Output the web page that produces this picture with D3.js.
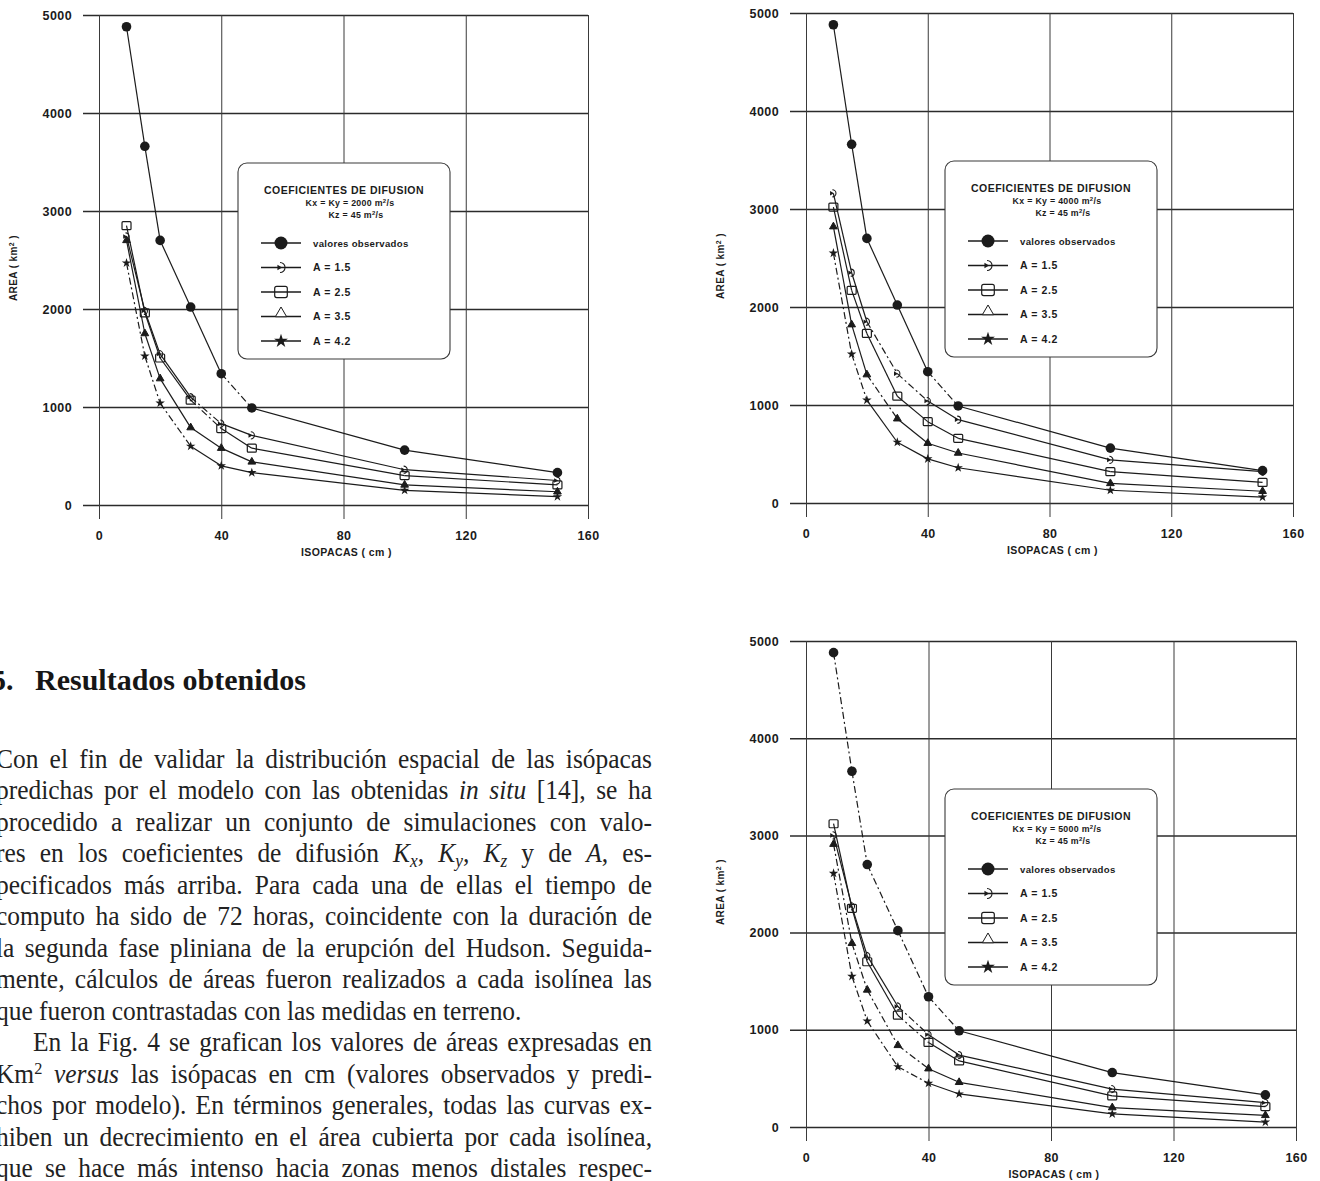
<!DOCTYPE html>
<html>
<head>
<meta charset="utf-8">
<script src="https://cdn.jsdelivr.net/npm/d3@7"></script>
<style>
  body { margin: 0; background: #fff; }
  svg { display: block; }
</style>
</head>
<body>
<div id="fig"></div>
<script>
// Isopacas (cm) on the x axis, shared by the three panels
var isopacas = [9, 15, 20, 30, 40, 50, 100, 150];
var xTicks = [0, 40, 80, 120, 160];
var yTicks = [0, 1000, 2000, 3000, 4000, 5000];
var serieNombres = ["valores observados", "A = 1.5", "A = 2.5", "A = 3.5", "A = 4.2"];
var kxy = [2000, 4000, 5000];
var kz = 45;

// Observed areas (km2), the same curve in every panel
var observados = [4880, 3660, 2700, 2020, 1340, 990, 560, 330];

// Kx = Ky = 2000 m2/s
var k2000A15 = [2740, 1980, 1540, 1100, 830, 710, 360, 250];
var k2000A25 = [2850, 1960, 1500, 1070, 780, 580, 300, 205];
var k2000A35 = [2700, 1750, 1290, 790, 580, 440, 205, 135];
var k2000A42 = [2470, 1520, 1040, 600, 400, 330, 150, 85];

// Kx = Ky = 4000 m2/s
var k4000A15 = [3160, 2350, 1850, 1320, 1040, 850, 440, 320];
var k4000A25 = [3020, 2170, 1730, 1090, 830, 660, 320, 210];
var k4000A35 = [2820, 1820, 1310, 860, 610, 510, 200, 120];
var k4000A42 = [2550, 1520, 1050, 620, 450, 360, 130, 60];

// Kx = Ky = 5000 m2/s
var k5000A15 = [3000, 2270, 1760, 1240, 950, 740, 390, 250];
var k5000A25 = [3120, 2250, 1700, 1150, 870, 680, 320, 210];
var k5000A35 = [2910, 1890, 1410, 840, 600, 460, 200, 120];
var k5000A42 = [2610, 1550, 1090, 620, 450, 340, 135, 50];

// Text of the page beside the figure
var tituloNum = "5.";
var titulo = "Resultados obtenidos";
var parrafo = [
  "Con el fin de validar la distribución espacial de las isópacas",
  "predichas por el modelo con las obtenidas *in situ* [14], se ha",
  "procedido a realizar un conjunto de simulaciones con valo-",
  "res en los coeficientes de difusión *K*_x_, *K*_y_, *K*_z_ y de *A*, es-",
  "pecificados más arriba. Para cada una de ellas el tiempo de",
  "computo ha sido de 72 horas, coincidente con la duración de",
  "la segunda fase pliniana de la erupción del Hudson. Seguida-",
  "mente, cálculos de áreas fueron realizados a cada isolínea las",
  "que fueron contrastadas con las medidas en terreno.",
  "En la Fig. 4 se grafican los valores de áreas expresadas en",
  "Km^2^ *versus* las isópacas en cm (valores observados y predi-",
  "chos por modelo). En términos generales, todas las curvas ex-",
  "hiben un decrecimiento en el área cubierta por cada isolínea,",
  "que se hace más intenso hacia zonas menos distales respec-"
];

// Panel placement (pixels) and which segments look dashed in the scan
var paneles = [
  { left: 99, right: 588, top: 15, bottom: 505, kxy: kxy[0],
    series: [observados, k2000A15, k2000A25, k2000A35, k2000A42],
    dashed: [[0, 4], [1, 3], [2, 3], [4, 0], [4, 1], [4, 2]] },
  { left: 806, right: 1293, top: 13, bottom: 503, kxy: kxy[1],
    series: [observados, k4000A15, k4000A25, k4000A35, k4000A42],
    dashed: [[0, 4], [1, 2], [1, 3], [3, 2], [4, 0], [4, 1]] },
  { left: 806, right: 1296, top: 641, bottom: 1127, kxy: kxy[2],
    series: [observados, k5000A15, k5000A25, k5000A35, k5000A42],
    dashed: [[0, 0], [0, 1], [0, 2], [0, 3], [0, 4], [1, 3], [2, 3],
             [3, 0], [3, 1], [3, 2], [3, 3], [4, 0], [4, 1], [4, 2], [4, 3]] }
];

var ink = "#1b1b1b";
var sans = "'Liberation Sans', Arial, sans-serif";

var svg = d3.select("#fig")
  .append("svg")
  .attr("width", 1320)
  .attr("height", 1181);

svg.append("rect").attr("width", 1320).attr("height", 1181).attr("fill", "#fff");

// Draw one marker; tipo is the index of the series
function marcador(g, tipo, cx, cy, leyenda) {
  var s = leyenda ? 1.4 : 1;
  if (tipo === 0) {
    g.append("circle").attr("cx", cx).attr("cy", cy).attr("r", (leyenda ? 6.5 : 4.8))
      .attr("fill", ink);
  } else if (tipo === 1) {
    var r = 3.6 * s;
    g.append("path")
      .attr("d", `M${cx - 1},${cy - r} A${r},${r} 0 0 1 ${cx - 1},${cy + r}`)
      .attr("fill", "none").attr("stroke", ink).attr("stroke-width", 1.1);
    g.append("path")
      .attr("d", d3.symbol(d3.symbolTriangle, 9 * s)())
      .attr("transform", `translate(${cx - 2},${cy}) rotate(90)`)
      .attr("fill", ink);
  } else if (tipo === 2) {
    var w = 9 * s, h = 8 * s;
    g.append("rect").attr("x", cx - w / 2).attr("y", cy - h / 2)
      .attr("width", w).attr("height", h).attr("rx", leyenda ? 2 : 1)
      .attr("fill", "none").attr("stroke", ink).attr("stroke-width", 1.2);
  } else if (tipo === 3) {
    g.append("path")
      .attr("d", d3.symbol(d3.symbolTriangle, leyenda ? 55 : 26)())
      .attr("transform", `translate(${cx},${cy - (leyenda ? 3 : 0)})`)
      .attr("fill", leyenda ? "#fff" : ink)
      .attr("stroke", ink).attr("stroke-width", 1);
  } else {
    g.append("path")
      .attr("d", d3.symbol(d3.symbolStar, leyenda ? 60 : 28)())
      .attr("transform", `translate(${cx},${cy})`)
      .attr("fill", ink);
  }
}

paneles.forEach(function(p) {
  var x = d3.scaleLinear().domain([0, 160]).range([p.left, p.right]);
  var y = d3.scaleLinear().domain([0, 5000]).range([p.bottom, p.top]);
  var g = svg.append("g");

  // horizontal grid + y labels
  var yAxis = g.append("g")
    .attr("transform", `translate(${p.right},0)`)
    .call(d3.axisLeft(y).tickValues(yTicks).tickFormat(d3.format("d"))
      .tickSize(p.right - p.left + 16).tickPadding(11));
  yAxis.select(".domain").remove();
  yAxis.selectAll("line").attr("stroke", "#2b2b2b").attr("stroke-width", 1.5);
  yAxis.selectAll("text")
    .attr("font-family", sans).attr("font-weight", "bold").attr("font-size", 12.5)
    .attr("letter-spacing", 0.4).attr("fill", ink);

  // vertical grid + x labels
  var xAxis = g.append("g")
    .attr("transform", `translate(0,${p.top})`)
    .call(d3.axisBottom(x).tickValues(xTicks).tickFormat(d3.format("d"))
      .tickSize(p.bottom - p.top + 14).tickPadding(12));
  xAxis.select(".domain").remove();
  xAxis.selectAll("line").attr("stroke", "#3a3a3a").attr("stroke-width", 1);
  xAxis.selectAll("text")
    .attr("font-family", sans).attr("font-weight", "bold").attr("font-size", 12.5)
    .attr("letter-spacing", 0.4).attr("fill", ink);

  // axis titles
  g.append("text")
    .attr("x", x(80) + 3).attr("y", p.bottom + 51)
    .attr("text-anchor", "middle")
    .attr("font-family", sans).attr("font-weight", "bold").attr("font-size", 10.5)
    .attr("letter-spacing", 0.4).attr("fill", ink)
    .text("ISOPACAS ( cm )");

  var yt = g.append("text")
    .attr("transform", `translate(${p.left - 82},${(p.top + p.bottom) / 2 + 8}) rotate(-90)`)
    .attr("text-anchor", "middle")
    .attr("font-family", sans).attr("font-weight", "bold").attr("font-size", 10)
    .attr("letter-spacing", 0.4).attr("fill", ink);
  yt.append("tspan").text("AREA ( km");
  yt.append("tspan").attr("baseline-shift", "super").attr("font-size", 7).text("2");
  yt.append("tspan").text(" )");

  // curves, one segment at a time so some can be dashed
  p.series.forEach(function(vals, si) {
    for (var k = 0; k < vals.length - 1; k++) {
      var isDashed = p.dashed.some(function(d) { return d[0] === si && d[1] === k; });
      g.append("line")
        .attr("x1", x(isopacas[k])).attr("y1", y(vals[k]))
        .attr("x2", x(isopacas[k + 1])).attr("y2", y(vals[k + 1]))
        .attr("stroke", ink).attr("stroke-width", 1.2)
        .attr("stroke-dasharray", isDashed ? "7,3,2,3" : null);
    }
  });
  p.series.forEach(function(vals, si) {
    vals.forEach(function(v, k) {
      marcador(g, si, x(isopacas[k]), y(v), false);
    });
  });

  // legend box
  var bx = p.left + 139, by = p.top + 148;
  var lg = g.append("g").attr("transform", `translate(${bx},${by})`);
  lg.append("rect").attr("width", 212).attr("height", 196).attr("rx", 9)
    .attr("fill", "#fff").attr("stroke", "#3a3a3a").attr("stroke-width", 1.1);
  lg.append("text").attr("x", 106).attr("y", 31).attr("text-anchor", "middle")
    .attr("font-family", sans).attr("font-weight", "bold").attr("font-size", 10.5)
    .attr("letter-spacing", 0.5).attr("fill", ink).text("COEFICIENTES DE DIFUSION");
  var k1 = lg.append("text").attr("x", 112).attr("y", 43).attr("text-anchor", "middle")
    .attr("font-family", sans).attr("font-weight", "bold").attr("font-size", 8.8)
    .attr("letter-spacing", 0.3).attr("fill", ink);
  k1.append("tspan").text(`Kx = Ky = ${p.kxy} m`);
  k1.append("tspan").attr("baseline-shift", "super").attr("font-size", 6).text("2");
  k1.append("tspan").text("/s");
  var k2 = lg.append("text").attr("x", 118).attr("y", 55).attr("text-anchor", "middle")
    .attr("font-family", sans).attr("font-weight", "bold").attr("font-size", 8.8)
    .attr("letter-spacing", 0.3).attr("fill", ink);
  k2.append("tspan").text(`Kz = ${kz} m`);
  k2.append("tspan").attr("baseline-shift", "super").attr("font-size", 6).text("2");
  k2.append("tspan").text("/s");

  var rowY = d3.scalePoint().domain(serieNombres).range([80, 178]);
  serieNombres.forEach(function(nombre, si) {
    var ry = rowY(nombre);
    lg.append("line").attr("x1", 23).attr("x2", 63).attr("y1", ry).attr("y2", ry)
      .attr("stroke", ink).attr("stroke-width", 1.4);
    marcador(lg, si, 43, ry, true);
    lg.append("text").attr("x", 75).attr("y", ry + 3.5)
      .attr("font-family", sans).attr("font-weight", "bold")
      .attr("font-size", si === 0 ? 9.6 : 10.5)
      .attr("letter-spacing", si === 0 ? 0.3 : 0.6)
      .attr("fill", ink).text(nombre);
  });
});

// Heading and body text of the page
var serif = "'Liberation Serif', 'Times New Roman', serif";
var head = svg.append("text")
  .attr("y", 690)
  .attr("font-family", serif).attr("font-weight", "bold").attr("font-size", 30)
  .attr("fill", "#161616");
head.append("tspan").attr("x", -9).text(tituloNum);
head.append("tspan").attr("x", 35).text(titulo);

// justified lines: extra room goes into the word gaps
var condensa = 0.96;
var lineY = d3.scaleLinear().domain([0, parrafo.length - 1]).range([768, 1177]);
parrafo.forEach(function(linea, i) {
  var indent = i === 9 ? 37 : 0;
  var t = svg.append("text")
    .attr("transform", `translate(${-4 + indent},${lineY(i)}) scale(${condensa},1)`)
    .attr("font-family", serif).attr("font-size", 26.5)
    .attr("fill", "#222");
  linea.split(/(\*[^*]+\*|_[^_]+_|\^[^^]+\^)/).forEach(function(part) {
    if (!part) return;
    if (part[0] === "*") {
      t.append("tspan").attr("font-style", "italic").text(part.slice(1, -1));
    } else if (part[0] === "_") {
      t.append("tspan").attr("font-style", "italic").attr("font-size", 18)
        .attr("baseline-shift", "-25%").text(part.slice(1, -1));
    } else if (part[0] === "^") {
      t.append("tspan").attr("font-size", 17).attr("baseline-shift", "45%").text(part.slice(1, -1));
    } else {
      t.append("tspan").text(part);
    }
  });
  var natural = t.node().getComputedTextLength();
  var huecos = linea.split(" ").length - 1;
  if (i !== 8 && huecos > 0) {
    var objetivo = (656 - indent) / condensa;
    t.attr("word-spacing", (objetivo - natural) / huecos);
  }
});
</script>
</body>
</html>
